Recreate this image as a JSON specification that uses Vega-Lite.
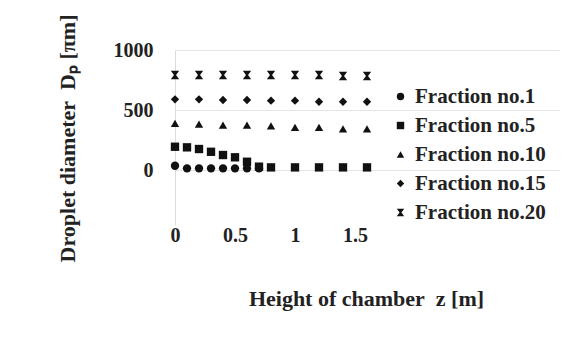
{
  "$schema": "https://vega.github.io/schema/vega-lite/v6.json",
  "width": 384,
  "height": 175,
  "autosize": {"type": "none"},
  "padding": {"left": 175, "top": 50, "right": 13, "bottom": 134},
  "background": "white",
  "config": {"view": {"stroke": null}, "font": "Liberation Serif"},
  "data": {"values": [
    {"series": "Fraction no.1", "z": 0, "D": 36},
    {"series": "Fraction no.1", "z": 0.1, "D": 14},
    {"series": "Fraction no.1", "z": 0.2, "D": 14},
    {"series": "Fraction no.1", "z": 0.3, "D": 14},
    {"series": "Fraction no.1", "z": 0.4, "D": 14},
    {"series": "Fraction no.1", "z": 0.5, "D": 14},
    {"series": "Fraction no.1", "z": 0.6, "D": 14},
    {"series": "Fraction no.1", "z": 0.7, "D": 14},
    {"series": "Fraction no.5", "z": 0, "D": 194},
    {"series": "Fraction no.5", "z": 0.1, "D": 189},
    {"series": "Fraction no.5", "z": 0.2, "D": 175},
    {"series": "Fraction no.5", "z": 0.3, "D": 152},
    {"series": "Fraction no.5", "z": 0.4, "D": 125},
    {"series": "Fraction no.5", "z": 0.5, "D": 106},
    {"series": "Fraction no.5", "z": 0.6, "D": 69},
    {"series": "Fraction no.5", "z": 0.7, "D": 28},
    {"series": "Fraction no.5", "z": 0.8, "D": 22},
    {"series": "Fraction no.5", "z": 1.0, "D": 22},
    {"series": "Fraction no.5", "z": 1.2, "D": 22},
    {"series": "Fraction no.5", "z": 1.4, "D": 22},
    {"series": "Fraction no.5", "z": 1.6, "D": 22},
    {"series": "Fraction no.10", "z": 0, "D": 389},
    {"series": "Fraction no.10", "z": 0.2, "D": 383},
    {"series": "Fraction no.10", "z": 0.4, "D": 375},
    {"series": "Fraction no.10", "z": 0.6, "D": 375},
    {"series": "Fraction no.10", "z": 0.8, "D": 367},
    {"series": "Fraction no.10", "z": 1.0, "D": 356},
    {"series": "Fraction no.10", "z": 1.2, "D": 356},
    {"series": "Fraction no.10", "z": 1.4, "D": 342},
    {"series": "Fraction no.10", "z": 1.6, "D": 342},
    {"series": "Fraction no.15", "z": 0, "D": 589},
    {"series": "Fraction no.15", "z": 0.2, "D": 589},
    {"series": "Fraction no.15", "z": 0.4, "D": 583},
    {"series": "Fraction no.15", "z": 0.6, "D": 583},
    {"series": "Fraction no.15", "z": 0.8, "D": 578},
    {"series": "Fraction no.15", "z": 1.0, "D": 578},
    {"series": "Fraction no.15", "z": 1.2, "D": 569},
    {"series": "Fraction no.15", "z": 1.4, "D": 569},
    {"series": "Fraction no.15", "z": 1.6, "D": 569},
    {"series": "Fraction no.20", "z": 0, "D": 792},
    {"series": "Fraction no.20", "z": 0.2, "D": 792},
    {"series": "Fraction no.20", "z": 0.4, "D": 792},
    {"series": "Fraction no.20", "z": 0.6, "D": 792},
    {"series": "Fraction no.20", "z": 0.8, "D": 792},
    {"series": "Fraction no.20", "z": 1.0, "D": 792},
    {"series": "Fraction no.20", "z": 1.2, "D": 792},
    {"series": "Fraction no.20", "z": 1.4, "D": 783},
    {"series": "Fraction no.20", "z": 1.6, "D": 783}
  ]},
  "mark": {"type": "point", "filled": true, "color": "#111", "opacity": 1, "size": 70},
  "encoding": {
    "x": {
      "field": "z", "type": "quantitative",
      "scale": {"domain": [0, 3.2], "nice": false},
      "axis": {
        "values": [0, 0.5, 1, 1.5],
        "format": ".1~f",
        "title": "Height of chamber\u00a0\u00a0z [m]",
        "grid": false, "domain": false, "ticks": false,
        "labelFont": "Liberation Serif", "labelFontWeight": "bold", "labelFontSize": 20,
        "labelColor": "#222", "labelPadding": 0, "labelFlush": false,
        "titleFont": "Liberation Serif", "titleFontSize": 22, "titleFontWeight": "bold",
        "titleColor": "#222", "titleX": 191, "titleY": 73,
        "titleAlign": "center", "titleBaseline": "middle"
      }
    },
    "y": {
      "field": "D", "type": "quantitative",
      "scale": {"domain": [-458, 1000], "nice": false, "zero": false},
      "axis": {
        "values": [0, 500, 1000],
        "format": "d",
        "title": "Droplet diameter\u00a0\u00a0Dₚ [πm]",
        "grid": true, "gridColor": "#e4e4e4",
        "domain": true, "domainColor": "#dcdcdc",
        "ticks": false,
        "labelFont": "Liberation Serif", "labelFontWeight": "bold", "labelFontSize": 20,
        "labelColor": "#222", "labelPadding": 22,
        "titleFont": "Liberation Serif", "titleFontSize": 22, "titleFontWeight": "bold",
        "titleColor": "#222", "titleAngle": -90, "titleX": -108, "titleY": 88,
        "titleAlign": "center", "titleBaseline": "middle"
      }
    },
    "shape": {
      "field": "series", "type": "nominal",
      "scale": {
        "domain": ["Fraction no.1", "Fraction no.5", "Fraction no.10", "Fraction no.15", "Fraction no.20"],
        "range": ["circle", "square", "triangle-up", "diamond", "M-1,-1H1L0.25,0L1,1H-1L-0.25,0Z"]
      },
      "legend": {
        "title": null, "orient": "none", "legendX": 215, "legendY": 36,
        "padding": 0, "symbolSize": 55, "symbolFillColor": "#111", "symbolStrokeColor": "#111",
        "labelFont": "Liberation Serif", "labelFontWeight": "bold", "labelFontSize": 21,
        "labelColor": "#222", "labelOffset": 4, "rowPadding": 7
      }
    }
  }
}
